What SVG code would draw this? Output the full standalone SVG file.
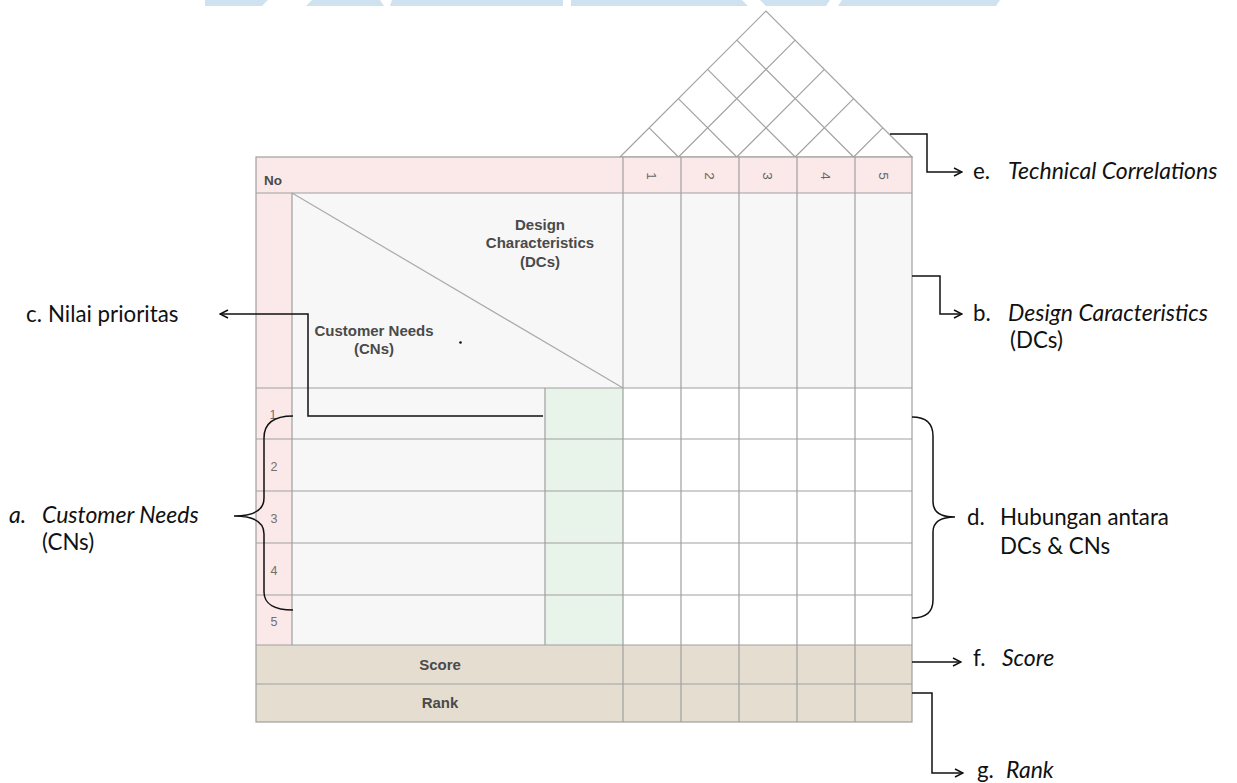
<svg xmlns="http://www.w3.org/2000/svg" width="1237" height="783" viewBox="0 0 1237 783">
  <style>
    .grid { stroke: #9f9f9f; stroke-width: 1.2; fill: none; }
    .roof { stroke: #a3a3a3; stroke-width: 1.2; fill: none; }
    .cell-label { font-family: "Liberation Sans", Arial, sans-serif; font-weight: bold; font-size: 15px; fill: #4a4a4a; text-anchor: middle; }
    .num { font-family: "Liberation Sans", Arial, sans-serif; font-size: 12.5px; fill: #707070; text-anchor: middle; }
    .hnum { font-size: 13.5px; fill: #666; }
    .note { font-family: Lato, "Open Sans", sans-serif; font-size: 22.3px; fill: #111; }
    .it { font-style: italic; font-size: 23px; }
    .conn { stroke: #111; stroke-width: 1.5; fill: none; }
  </style>
  <defs>
    <marker id="open-arrow" viewBox="0 0 10 10" refX="9" refY="5" markerWidth="10" markerHeight="10" markerUnits="userSpaceOnUse" orient="auto">
      <path d="M1,1 L9,5 L1,9" fill="none" stroke="#111" stroke-width="1.5"/>
    </marker>
  </defs>

  <rect width="1237" height="783" fill="#ffffff"/>

  <!-- pale blue band along the top edge -->
  <g id="top-band" fill="#cfe2f0">
    <polygon points="205,0 268,0 262,6 205,6"/>
    <polygon points="312,0 380,0 384,6 306,6"/>
    <polygon points="392,0 563,0 563,6 390,6"/>
    <polygon points="571,0 742,0 748,6 571,6"/>
    <polygon points="760,0 830,0 826,6 766,6"/>
    <polygon points="842,0 1000,0 996,6 838,6"/>
  </g>

  <!-- roof: technical correlation matrix -->
  <g id="roof">
    <polygon points="620,157 766,11 912,157" fill="#ffffff" class="roof"/>
    <path class="roof" d="M678.4,157 L649.2,127.8 M678.4,157 L795.2,40.2
                          M736.8,157 L678.4,98.6 M736.8,157 L824.4,69.4
                          M795.2,157 L707.6,69.4 M795.2,157 L853.6,98.6
                          M853.6,157 L736.8,40.2 M853.6,157 L882.8,127.8"/>
  </g>

  <!-- header row -->
  <g id="header">
    <rect x="256" y="157" width="656" height="36" fill="#fbe8e8"/>
    <text x="264" y="185" font-family="'Liberation Sans', Arial, sans-serif" font-weight="bold" font-size="13.5" fill="#4a4a4a">No</text>
    <text class="num hnum" transform="translate(652,176) rotate(90)" y="5">1</text>
    <text class="num hnum" transform="translate(710,176) rotate(90)" y="5">2</text>
    <text class="num hnum" transform="translate(768,176) rotate(90)" y="5">3</text>
    <text class="num hnum" transform="translate(826,176) rotate(90)" y="5">4</text>
    <text class="num hnum" transform="translate(883.5,176) rotate(90)" y="5">5</text>
  </g>

  <!-- design characteristics block and corner triangle -->
  <g id="design-characteristics">
    <rect x="256" y="193" width="36" height="452" fill="#fbe8e8"/>
    <rect x="292" y="193" width="620" height="195" fill="#f7f7f7"/>
    <line x1="292" y1="193" x2="623" y2="388" stroke="#aaaaaa" stroke-width="1.2"/>
    <text class="cell-label" x="540" y="230">Design</text>
    <text class="cell-label" x="540" y="248">Characteristics</text>
    <text class="cell-label" x="540" y="267">(DCs)</text>
    <text class="cell-label" x="374" y="336">Customer Needs</text>
    <text class="cell-label" x="374" y="354">(CNs)</text>
    <circle cx="460.5" cy="342.5" r="1.3" fill="#111"/>
  </g>

  <!-- customer needs rows, priority column and relationship matrix -->
  <g id="customer-needs">
    <rect x="292" y="388" width="253" height="257" fill="#f7f7f7"/>
    <rect x="545" y="388" width="78" height="257" fill="#e8f3ea"/>
    <rect x="623" y="388" width="289" height="257" fill="#ffffff"/>
    <text class="num" x="273" y="419">1</text>
    <text class="num" x="274" y="471">2</text>
    <text class="num" x="274" y="523">3</text>
    <text class="num" x="274" y="575">4</text>
    <text class="num" x="274" y="626">5</text>
  </g>

  <!-- score and rank rows -->
  <g id="score-rank">
    <rect x="256" y="645" width="656" height="77" fill="#e5ded0"/>
    <text class="cell-label" x="440" y="670" font-size="14">Score</text>
    <text class="cell-label" x="440" y="708" font-size="14">Rank</text>
  </g>

  <!-- table grid lines -->
  <g id="grid" class="grid">
    <rect x="256" y="157" width="656" height="565"/>
    <line x1="256" y1="193" x2="912" y2="193"/>
    <line x1="256" y1="388" x2="912" y2="388"/>
    <line x1="256" y1="439" x2="912" y2="439"/>
    <line x1="256" y1="491" x2="912" y2="491"/>
    <line x1="256" y1="543" x2="912" y2="543"/>
    <line x1="256" y1="595" x2="912" y2="595"/>
    <line x1="256" y1="645" x2="912" y2="645"/>
    <line x1="256" y1="684" x2="912" y2="684"/>
    <line x1="292" y1="193" x2="292" y2="645"/>
    <line x1="545" y1="388" x2="545" y2="645"/>
    <line x1="623" y1="157" x2="623" y2="722"/>
    <line x1="681" y1="157" x2="681" y2="722"/>
    <line x1="739" y1="157" x2="739" y2="722"/>
    <line x1="797" y1="157" x2="797" y2="722"/>
    <line x1="855" y1="157" x2="855" y2="722"/>
  </g>

  <!-- callout connectors and braces -->
  <g id="connectors">
    <polyline class="conn" points="890,134 927,134 927,172 962,172" marker-end="url(#open-arrow)"/>
    <polyline class="conn" points="912,276 940,276 940,314 962,314" marker-end="url(#open-arrow)"/>
    <polyline class="conn" points="543,416 308,416 308,314 220,314" marker-end="url(#open-arrow)"/>
    <line class="conn" x1="912" y1="662" x2="961" y2="662" marker-end="url(#open-arrow)"/>
    <polyline class="conn" points="912,693 932,693 932,773 963,773" marker-end="url(#open-arrow)"/>
    <path class="conn" d="M293,416 C275,416 264,422 264,438 L264,498 C264,510 254,516 234,516 C254,516 264,522 264,534 L264,592 C264,604 275,610 293,610"/>
    <path class="conn" d="M912,417 C926,417 933,423 933,436 L933,502 C933,512 940,517 955,517 C940,517 933,522 933,532 L933,600 C933,612 926,618 912,618"/>
  </g>

  <!-- callout captions -->
  <g id="captions" class="note">
    <text x="973" y="179">e.</text>
    <text class="it" x="1008" y="179">Technical Correlations</text>
    <text x="973" y="321">b.</text>
    <text class="it" x="1008" y="321">Design Caracteristics</text>
    <text x="1010" y="348">(DCs)</text>
    <text x="26" y="322">c.</text>
    <text x="48" y="322">Nilai prioritas</text>
    <text class="it" x="9" y="523">a.</text>
    <text class="it" x="42" y="523">Customer Needs</text>
    <text x="42" y="550">(CNs)</text>
    <text x="967" y="525">d.</text>
    <text x="1000" y="525">Hubungan antara</text>
    <text x="1000" y="554">DCs &amp; CNs</text>
    <text x="973" y="666">f.</text>
    <text class="it" x="1002" y="666">Score</text>
    <text x="977" y="778">g.</text>
    <text class="it" x="1006" y="778">Rank</text>
  </g>
</svg>
